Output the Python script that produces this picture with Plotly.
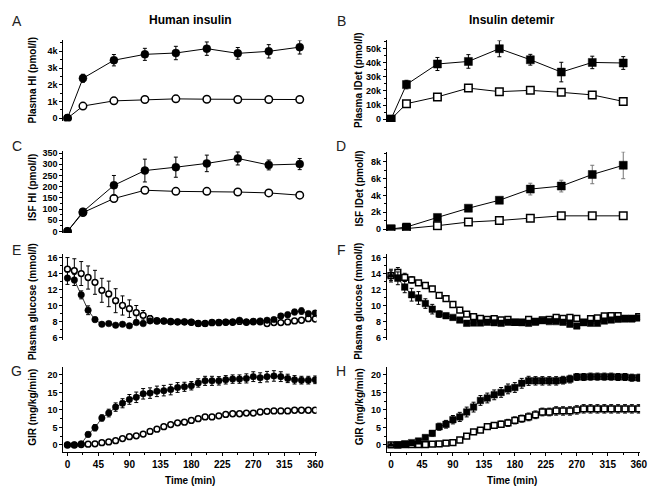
import plotly.graph_objects as go

# ---------------- data ----------------
t_iso = [0, 22.5, 67.5, 112.5, 157.5, 202.5, 247.5, 292.5, 337.5]
t_clamp = list(range(0, 361, 10))

# A: Plasma HI (pmol/l)
A_filled = [0, 2390, 3470, 3820, 3900, 4160, 3880, 4000, 4250]
A_filled_err = [30, 240, 340, 360, 400, 400, 350, 400, 410]
A_open = [0, 730, 1040, 1120, 1160, 1140, 1120, 1120, 1120]
A_open_err = [20, 60, 60, 50, 50, 50, 50, 50, 50]

# B: Plasma IDet (pmol/l)
B_filled = [0, 24500, 39000, 40800, 49800, 42000, 33300, 40100, 39700]
B_filled_err = [300, 3000, 4600, 4800, 5700, 3800, 6900, 4400, 4500]
B_open = [0, 11000, 15800, 22000, 19500, 20400, 19000, 17200, 12600]
B_open_err = [200, 1000, 1000, 1200, 2000, 2000, 1500, 2300, 1500]

# C: ISF HI (pmol/l)
C_filled = [0, 88, 206, 272, 287, 304, 326, 297, 301]
C_filled_err = [3, 15, 44, 51, 45, 37, 29, 22, 25]
C_open = [0, 84, 147, 184, 179, 179, 176, 172, 162]
C_open_err = [3, 10, 14, 12, 8, 8, 8, 10, 14]

# D: ISF IDet (pmol/l)
D_filled = [0, 240, 1380, 2480, 3430, 4760, 5120, 6500, 7600]
D_filled_err = [30, 100, 150, 180, 200, 700, 700, 1100, 1600]
D_open = [0, 50, 400, 830, 1020, 1300, 1570, 1570, 1570]
D_open_err = [20, 50, 80, 100, 150, 250, 400, 300, 350]

# E: Plasma glucose, human insulin (mmol/l)
E_filled = [13.44, 13.2, 11.33, 9.4, 8.23, 7.65, 7.73, 7.53, 7.65, 7.45, 7.86, 7.73,
            8.07, 8.02, 8.07, 7.94, 7.94, 7.94, 7.9, 7.73, 7.73, 7.9, 7.9, 7.9, 7.94,
            8.15, 7.94, 8.02, 8.07, 8.15, 8.23, 8.69, 8.85, 9.18, 9.3, 8.98, 9.06]
E_filled_err = [0.8, 0.7, 0.5, 0.55, 0.3, 0.25, 0.25, 0.2, 0.2, 0.2, 0.25, 0.25,
                0.2, 0.2, 0.2, 0.2, 0.2, 0.2, 0.2, 0.2, 0.2, 0.2, 0.2, 0.2, 0.2,
                0.2, 0.2, 0.2, 0.2, 0.2, 0.25, 0.3, 0.3, 0.35, 0.4, 0.3, 0.3]
E_open = [14.55, 14.35, 14.0, 13.5, 12.9, 11.9, 11.45, 10.6, 10.0, 9.6, 9.1, 8.77,
          8.35, 8.1, 8.05, 8.0, 7.95, 7.95, 7.9, 7.75, 7.75, 7.85, 7.85, 7.9, 7.9,
          8.0, 7.9, 7.95, 7.95, 7.73, 7.86, 7.86, 7.94, 8.07, 8.15, 8.35, 8.31]
E_open_err = [1.45, 1.5, 1.5, 1.45, 1.5, 1.5, 1.6, 1.5, 1.2, 1.1, 0.9, 0.6,
              0.4, 0.2, 0.2, 0.2, 0.2, 0.2, 0.2, 0.2, 0.2, 0.2, 0.2, 0.2, 0.2,
              0.2, 0.2, 0.2, 0.2, 0.2, 0.2, 0.2, 0.2, 0.2, 0.2, 0.2, 0.2]

# F: Plasma glucose, insulin detemir (mmol/l)
F_filled = [13.74, 13.4, 12.3, 11.35, 10.94, 10.24, 9.54, 8.92, 8.72, 8.51, 8.18, 7.77,
            7.81, 7.81, 7.9, 7.85, 7.77, 7.9, 7.9, 7.85, 7.77, 7.9, 8.1, 7.98, 7.98,
            7.9, 7.65, 7.44, 7.85, 7.77, 7.77, 8.06, 8.18, 8.27, 8.31, 8.31, 8.43]
F_filled_err = [0.8, 0.8, 0.7, 0.8, 0.8, 0.6, 0.6, 0.4, 0.3, 0.2, 0.2, 0.15,
                0.15, 0.15, 0.15, 0.15, 0.15, 0.15, 0.15, 0.15, 0.15, 0.15, 0.15, 0.15, 0.15,
                0.15, 0.2, 0.2, 0.15, 0.15, 0.15, 0.15, 0.15, 0.15, 0.15, 0.15, 0.15]
F_open = [13.74, 14.15, 13.53, 13.2, 12.83, 12.5, 12.09, 11.27, 10.86, 10.12, 9.42, 8.92,
          8.6, 8.39, 8.27, 8.35, 8.18, 8.27, 7.9, 7.9, 8.27, 8.02, 8.18, 8.27, 8.51,
          8.39, 8.51, 8.39, 7.9, 8.35, 8.43, 8.68, 8.72, 8.72, 8.39, 8.39, 8.6]
F_open_err = [0.6, 0.6, 0.5, 0.4, 0.3, 0.3, 0.3, 0.25, 0.2, 0.2, 0.15, 0.15,
              0.15, 0.15, 0.15, 0.15, 0.15, 0.15, 0.15, 0.15, 0.15, 0.15, 0.15, 0.15, 0.15,
              0.15, 0.15, 0.15, 0.15, 0.15, 0.15, 0.15, 0.15, 0.15, 0.15, 0.15, 0.15]

# G: GIR, human insulin (mg/kg/min)
G_filled = [0, 0, 0.3, 3.0, 4.9, 7.7, 9.1, 10.8, 11.9, 13.0, 13.6, 14.6, 14.8,
            15.3, 15.5, 15.8, 16.4, 16.6, 16.9, 17.7, 18.3, 18.3, 18.3, 18.6, 18.8,
            18.8, 19.0, 19.5, 19.2, 19.5, 19.7, 19.5, 19.0, 18.6, 18.5, 18.5, 18.6]
G_filled_err = [0.1, 0.1, 0.2, 0.7, 0.9, 0.9, 1.1, 1.2, 1.3, 1.4, 1.5, 1.5, 1.5,
                1.5, 1.5, 1.5, 1.4, 1.3, 1.2, 1.2, 1.3, 1.3, 1.2, 1.2, 1.2,
                1.2, 1.3, 1.4, 1.4, 1.5, 1.5, 1.4, 1.2, 1.2, 1.1, 1.1, 1.1]
G_open = [0, 0, 0.1, 0.2, 0.3, 0.65, 0.85, 1.2, 1.8, 2.35, 2.6, 3.1, 3.85,
          4.5, 5.2, 5.8, 6.3, 6.5, 7.0, 7.5, 8.0, 8.0, 8.3, 8.7, 8.9,
          8.9, 9.1, 9.1, 9.4, 9.6, 9.7, 9.7, 9.7, 9.9, 9.9, 9.9, 9.9]
G_open_err = [0.05, 0.05, 0.1, 0.1, 0.1, 0.2, 0.2, 0.2, 0.3, 0.3, 0.3, 0.3, 0.3,
              0.3, 0.3, 0.3, 0.3, 0.3, 0.3, 0.3, 0.3, 0.3, 0.3, 0.3, 0.3,
              0.3, 0.3, 0.3, 0.3, 0.3, 0.3, 0.3, 0.3, 0.3, 0.3, 0.3, 0.3]

# H: GIR, insulin detemir (mg/kg/min)
H_filled = [0, 0, 0.3, 0.65, 1.1, 2.1, 3.3, 5.2, 5.9, 7.2, 8.0, 9.4, 10.8,
            12.7, 13.4, 14.3, 15.0, 16.0, 16.4, 17.6, 18.3, 18.3, 18.3, 18.3, 18.3,
            18.5, 18.8, 19.4, 19.4, 19.5, 19.5, 19.5, 19.5, 19.4, 19.4, 19.2, 19.2]
H_filled_err = [0.1, 0.1, 0.2, 0.3, 0.4, 0.6, 0.8, 1.0, 1.1, 1.2, 1.3, 1.4, 1.4,
                1.4, 1.4, 1.4, 1.4, 1.4, 1.4, 1.4, 1.3, 1.2, 1.2, 1.2, 1.2,
                1.1, 1.1, 1.0, 1.0, 1.0, 1.0, 1.0, 1.0, 1.0, 1.0, 1.0, 1.0]
H_open = [0, 0, 0.1, 0.1, 0.1, 0.1, 0.2, 0.3, 0.5, 0.65, 1.4, 2.5, 3.75,
          4.2, 5.2, 5.6, 5.9, 6.3, 7.0, 7.5, 8.0, 8.6, 9.4, 9.4, 9.7,
          9.7, 9.7, 10.0, 10.3, 10.3, 10.3, 10.3, 10.3, 10.3, 10.3, 10.3, 10.3]
H_open_err = [0.05, 0.05, 0.05, 0.05, 0.05, 0.1, 0.1, 0.1, 0.2, 0.2, 0.3, 0.4, 0.5,
              0.6, 0.7, 0.8, 0.9, 1.0, 1.0, 1.0, 1.1, 1.1, 1.1, 1.1, 1.2,
              1.2, 1.2, 1.2, 1.2, 1.2, 1.2, 1.2, 1.2, 1.2, 1.2, 1.2, 1.2]

# tick labels
A_ticks = [0, 1000, 2000, 3000, 4000]; A_ticktext = ["0", "1k", "2k", "3k", "4k"]
B_ticks = [0, 10000, 20000, 30000, 40000, 50000]; B_ticktext = ["0", "10k", "20k", "30k", "40k", "50k"]
C_ticks = [0, 50, 100, 150, 200, 250, 300, 350]; C_ticktext = [str(v) for v in C_ticks]
D_ticks = [0, 2000, 4000, 6000, 8000]; D_ticktext = ["0", "2k", "4k", "6k", "8k"]
EF_ticks = [6, 8, 10, 12, 14, 16]; EF_ticktext = [str(v) for v in EF_ticks]
GH_ticks = [0, 5, 10, 15, 20]; GH_ticktext = [str(v) for v in GH_ticks]
time_ticks = [0, 45, 90, 135, 180, 225, 270, 315, 360]; time_ticktext = [str(v) for v in time_ticks]

col_titles = ["Human insulin", "Insulin detemir"]
ylabels = ["Plasma HI (pmol/l)", "Plasma IDet (pmol/l)", "ISF HI (pmol/l)", "ISF IDet (pmol/l)",
           "Plasma glucose (mmol/l)", "Plasma glucose (mmol/l)", "GIR (mg/kg/min)", "GIR (mg/kg/min)"]
letters = ["A", "B", "C", "D", "E", "F", "G", "H"]

# ---------------- layout geometry ----------------
W, Hh = 658, 491
FONT = "Arial, Liberation Sans, sans-serif"

def fx(px):
    return px / W

def fy(py):
    return 1 - py / Hh

col_x = [(64, 320), (391, 647)]
panels = [
    dict(col=0, top=38, bot=120, yr=[-180, 4650], tv=A_ticks, tt=A_ticktext, mdt=500,
         t=t_iso, f=A_filled, fe=A_filled_err, o=A_open, oe=A_open_err, sym="circle", big=True),
    dict(col=1, top=38, bot=120.7, yr=[-1900, 55600], tv=B_ticks, tt=B_ticktext, mdt=5000,
         t=t_iso, f=B_filled, fe=B_filled_err, o=B_open, oe=B_open_err, sym="square", big=True),
    dict(col=0, top=150, bot=233.3, yr=[-7, 360], tv=C_ticks, tt=C_ticktext, mdt=25,
         t=t_iso, f=C_filled, fe=C_filled_err, o=C_open, oe=C_open_err, sym="circle", big=True),
    dict(col=1, top=151, bot=231, yr=[-200, 9200], tv=D_ticks, tt=D_ticktext, mdt=1000,
         t=t_iso, f=D_filled, fe=D_filled_err, o=D_open, oe=D_open_err, sym="square", big=True),
    dict(col=0, top=255, bot=341.7, yr=[5.7, 16.4], tv=EF_ticks, tt=EF_ticktext, mdt=1,
         t=t_clamp, f=E_filled, fe=E_filled_err, o=E_open, oe=E_open_err, sym="circle", big=False),
    dict(col=1, top=255, bot=341.7, yr=[5.7, 16.4], tv=EF_ticks, tt=EF_ticktext, mdt=1,
         t=t_clamp, f=F_filled, fe=F_filled_err, o=F_open, oe=F_open_err, sym="square", big=False),
    dict(col=0, top=369.3, bot=456, yr=[-2.17, 22.25], tv=GH_ticks, tt=GH_ticktext, mdt=2.5,
         t=t_clamp, f=G_filled, fe=G_filled_err, o=G_open, oe=G_open_err, sym="circle", big=False),
    dict(col=1, top=369.3, bot=456, yr=[-2.17, 22.25], tv=GH_ticks, tt=GH_ticktext, mdt=2.5,
         t=t_clamp, f=H_filled, fe=H_filled_err, o=H_open, oe=H_open_err, sym="square", big=False),
]

fig = go.Figure()
layout = dict(width=W, height=Hh, margin=dict(l=0, r=0, t=0, b=0), autosize=False,
              paper_bgcolor="white", plot_bgcolor="white", showlegend=False,
              font=dict(family=FONT, color="black"))
annotations = []

for i, p in enumerate(panels):
    k = i + 1
    xa = "x" if k == 1 else f"x{k}"
    ya = "y" if k == 1 else f"y{k}"
    xkey = "xaxis" if k == 1 else f"xaxis{k}"
    ykey = "yaxis" if k == 1 else f"yaxis{k}"
    x0, x1 = col_x[p["col"]]
    showx = k in (7, 8)
    layout[xkey] = dict(domain=[fx(x0), fx(x1)], anchor=ya, range=[-6, 362],
                        showgrid=False, zeroline=False, showline=showx,
                        linecolor="black", linewidth=1,
                        showticklabels=showx, ticks="outside" if showx else "",
                        ticklen=3, tickwidth=1, tickcolor="black",
                        tickvals=time_ticks, ticktext=time_ticktext,
                        tickfont=dict(size=10, family=FONT, weight="bold"),
                        minor=dict(ticks="outside" if showx else "", ticklen=2,
                                   tickvals=[22.5 + 45 * j for j in range(8)], tickcolor="black"))
    layout[ykey] = dict(domain=[fy(p["bot"]), fy(p["top"])], anchor=xa, range=p["yr"],
                        showgrid=False, zeroline=False, showline=True,
                        linecolor="black", linewidth=1, ticks="outside",
                        ticklen=3, tickwidth=1, tickcolor="black",
                        tickvals=p["tv"], ticktext=p["tt"],
                        tickfont=dict(size=9, family=FONT, weight="bold"),
                        minor=dict(ticks="outside", ticklen=2, dtick=p["mdt"], tickcolor="black"))

    msize_f = 8 if p["big"] else 6.5
    msize_o = 7.5 if p["big"] else 5.8
    lw_line = 1 if p["big"] else 0.8
    # open series
    fig.add_trace(go.Scatter(
        x=p["t"], y=p["o"], xaxis=xa, yaxis=ya,
        mode="lines+markers" if p["big"] else "markers",
        line=dict(color="black", width=lw_line),
        marker=dict(symbol=p["sym"], size=msize_o, color="white",
                    line=dict(color="black", width=1.5)),
        error_y=dict(type="data", array=p["oe"], color="black", thickness=1, width=2),
        hoverinfo="skip"))
    # filled series
    syms = [p["sym"]] * len(p["t"])
    if k in (6, 8):
        syms[0] = "triangle-up"
    fig.add_trace(go.Scatter(
        x=p["t"], y=p["f"], xaxis=xa, yaxis=ya,
        mode="lines+markers",
        line=dict(color="black", width=lw_line),
        marker=dict(symbol=syms, size=msize_f, color="black",
                    line=dict(color="black", width=0.5)),
        error_y=dict(type="data", array=p["fe"],
                     color="#777777" if k == 4 else "black", thickness=1, width=2),
        hoverinfo="skip"))

    # panel letter
    lx = 17 if p["col"] == 0 else 345
    ly = {1: 18, 2: 18, 3: 145, 4: 145, 5: 251, 6: 251, 7: 373, 8: 373}[k]
    annotations.append(dict(text=letters[i], x=fx(lx), y=fy(ly), xref="paper", yref="paper",
                            showarrow=False, xanchor="center", yanchor="middle",
                            font=dict(size=14, family=FONT, color="#222222")))
    # y label
    yx = 33 if p["col"] == 0 else 363
    ycen = {1: 78, 2: 78, 3: 187, 4: 188, 5: 303, 6: 303, 7: 410, 8: 410}[k]
    annotations.append(dict(text=ylabels[i], x=fx(yx), y=fy(ycen), xref="paper", yref="paper",
                            showarrow=False, textangle=-90, xanchor="center", yanchor="middle",
                            font=dict(size=10, family=FONT, weight="bold")))

# column titles and x-axis titles
for j, cx in enumerate([193, 518]):
    annotations.append(dict(text=col_titles[j], x=fx(cx), y=fy(17), xref="paper", yref="paper",
                            showarrow=False, xanchor="center", yanchor="middle",
                            font=dict(size=12, family=FONT, weight="bold")))
    annotations.append(dict(text="Time (min)", x=fx([192, 518][j]), y=fy(484), xref="paper",
                            yref="paper", showarrow=False, xanchor="center", yanchor="middle",
                            font=dict(size=10, family=FONT, weight="bold")))

layout["annotations"] = annotations
fig.update_layout(**layout)
fig.write_html("out.html")
